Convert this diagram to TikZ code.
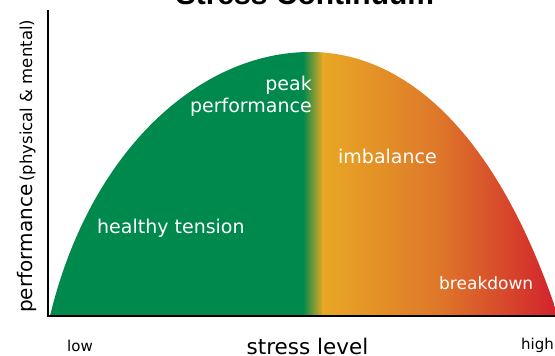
\documentclass[tikz,border=0pt]{standalone}
\usepackage{fontspec}
\setmainfont{DejaVu Sans}
\newfontfamily\titlefont{Liberation Sans}
\definecolor{sgreen}{RGB}{0,137,76}
\definecolor{syellow}{RGB}{232,168,36}
\definecolor{sorange}{RGB}{222,118,42}
\definecolor{sred}{RGB}{210,32,44}
\tikzset{
  lbl/.style={text=white,inner sep=0pt,font=\fontsize{19}{22}\selectfont},
  axlbl/.style={text=black,inner sep=0pt},
  axisline/.style={draw=black,line width=2.4pt}
}
\begin{document}
\begin{tikzpicture}[x=1pt,y=1pt]
\useasboundingbox (0,0) rectangle (555,356);
% curve fill
\begin{scope}
\clip (50,40) .. controls (90,206) and (200,304) .. (310,304)
      .. controls (410,304) and (500,216) .. (558,40) -- cycle;
\fill[sgreen] (40,38) rectangle (304,310);
\shade[left color=sgreen,right color=syellow] (303,38) rectangle (323,310);
\shade[left color=syellow,right color=sorange] (322,38) rectangle (441,310);
\shade[left color=sorange,right color=sred] (440,38) rectangle (560,310);
\end{scope}
% axes
\coordinate (o) at (48,40);
\coordinate (ytop) at (48,346);
\coordinate (xend) at (560,40);
\draw[axisline] (ytop) -- (o);
\draw[axisline] ([xshift=-1.2pt]o) -- (xend);
% labels in curve
\node[lbl,anchor=base east] (peak) at (312,265) {peak};
\node[lbl,anchor=base east] (perf) at (312,243) {performance};
\node[lbl,anchor=base west] (ht) at (97,122) {healthy tension};
\node[lbl,anchor=base west] (imb) at (338,192) {imbalance};
\node[lbl,anchor=base west,font=\fontsize{17}{20}\selectfont] (brk) at (439,66) {breakdown};
% axis labels
\node[axlbl,anchor=base west,rotate=90] (ylab) at (32,43)
  {{\fontsize{20}{24}\selectfont performance} {\fontsize{16.5}{20}\selectfont (physical \& mental)}};
\node[axlbl,anchor=base west,font=\fontsize{15}{18}\selectfont] (low) at (67,4) {low};
\node[axlbl,anchor=base,font=\fontsize{21.5}{24}\selectfont] (sl) at (307.5,1.5) {stress level};
\node[axlbl,anchor=base west,font=\fontsize{15}{18}\selectfont] (high) at (521,6.5) {high};
% title (mostly cut off)
\node[axlbl,anchor=base,font=\titlefont\bfseries\fontsize{30}{34}\selectfont] (title) at (305,351.5) {Stress Continuum};
\end{tikzpicture}
\end{document}
